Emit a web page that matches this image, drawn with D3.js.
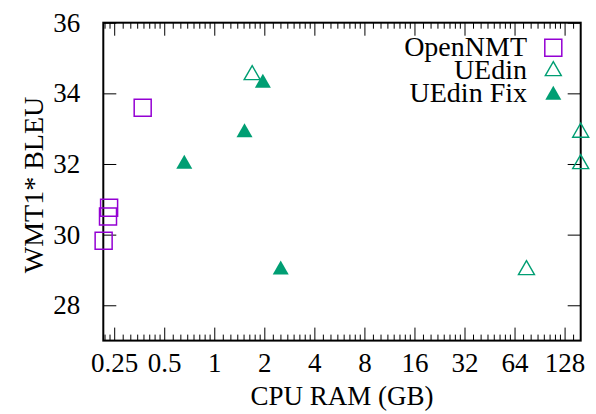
<!DOCTYPE html>
<html>
<head>
<meta charset="utf-8">
<script src="https://cdn.jsdelivr.net/npm/d3@7"></script>
<style>
  html, body { margin: 0; padding: 0; background: #fff; }
  svg { display: block; }
  text { font-family: "Liberation Serif", "Times New Roman", serif; fill: #000; }
</style>
</head>
<body>
<svg id="chart" width="596" height="414"></svg>
<script>
// Memory use (GB) vs. WMT1* BLEU for each system
const openNmtRam  = [0.216, 0.2295, 0.233, 0.371];
const openNmtBleu = [29.83, 30.51, 30.76, 33.59];

const uedinRam  = [1.69, 75.5, 160, 160];
const uedinBleu = [34.52, 29.0, 32.89, 32.0];

const uedinFixRam  = [0.66, 1.52, 1.96, 2.51];
const uedinFixBleu = [32.0, 32.89, 34.29, 29.0];

const seriesNames = ["OpenNMT", "UEdin", "UEdin Fix"];

const xTickValues = [0.25, 0.5, 1, 2, 4, 8, 16, 32, 64, 128];
const xTickLabels = ["0.25", "0.5", "1", "2", "4", "8", "16", "32", "64", "128"];
const yTickValues = [28, 30, 32, 34, 36];

const purple = "#9400D3";
const green = "#009E73";

const svg = d3.select("#chart");
const plotLeft = 103.3, plotRight = 580.7, plotTop = 22.7, plotBottom = 340.6;

const x = d3.scaleLog().base(2).domain([0.215, 160]).range([plotLeft, plotRight]);
const y = d3.scaleLinear().domain([27, 36]).range([plotBottom, plotTop]);

// minor ticks: 7 per octave, evenly spaced in value
const minorTicks = [];
for (let e = -3; e <= 7; e++) {
  const base = Math.pow(2, e);
  for (let k = 1; k <= 7; k++) {
    const v = base * (1 + k / 8);
    if (v > x.domain()[0] && v < x.domain()[1]) minorTicks.push(v);
  }
}

function styleAxis(g) {
  g.select(".domain").remove();
  g.selectAll(".tick line").attr("stroke", "#000").attr("stroke-width", 1);
  g.selectAll("text").style("font-family", "Liberation Serif, serif").style("font-size", "27px").attr("fill", "#000");
}

// bottom axis: major + minor ticks pointing inward
svg.append("g").attr("transform", `translate(0,${plotBottom})`)
  .call(d3.axisBottom(x).tickValues(xTickValues)
    .tickFormat((d, i) => xTickLabels[i]).tickSizeInner(-13).tickSizeOuter(0).tickPadding(12))
  .call(styleAxis);
svg.append("g").attr("transform", `translate(0,${plotBottom})`)
  .call(d3.axisBottom(x).tickValues(minorTicks).tickFormat("").tickSizeInner(-6).tickSizeOuter(0))
  .call(styleAxis);

// top mirror ticks
svg.append("g").attr("transform", `translate(0,${plotTop})`)
  .call(d3.axisTop(x).tickValues(xTickValues).tickFormat("").tickSizeInner(-13).tickSizeOuter(0))
  .call(styleAxis);
svg.append("g").attr("transform", `translate(0,${plotTop})`)
  .call(d3.axisTop(x).tickValues(minorTicks).tickFormat("").tickSizeInner(-6).tickSizeOuter(0))
  .call(styleAxis);

// left axis
svg.append("g").attr("transform", `translate(${plotLeft},0)`)
  .call(d3.axisLeft(y).tickValues(yTickValues).tickFormat(d3.format("d"))
    .tickSizeInner(-13).tickSizeOuter(0).tickPadding(23))
  .call(styleAxis);

// right mirror ticks
svg.append("g").attr("transform", `translate(${plotRight},0)`)
  .call(d3.axisRight(y).tickValues(yTickValues).tickFormat("").tickSizeInner(-13).tickSizeOuter(0))
  .call(styleAxis);

// frame
svg.append("rect")
  .attr("x", plotLeft).attr("y", plotTop)
  .attr("width", plotRight - plotLeft).attr("height", plotBottom - plotTop)
  .attr("fill", "none").attr("stroke", "#000").attr("stroke-width", 2);

// axis titles
svg.append("text")
  .attr("x", (plotLeft + plotRight) / 2).attr("y", 405)
  .attr("text-anchor", "middle").style("font-size", "27px")
  .text("CPU RAM (GB)");
svg.append("text")
  .attr("transform", "translate(43,185) rotate(-90)")
  .attr("text-anchor", "middle").style("font-size", "28px")
  .text("WMT1* BLEU");

// marker shapes
const sq = 17;
function squarePath(cx, cy) {
  const h = sq / 2;
  return `M${cx - h},${cy - h}h${sq}v${sq}h${-sq}Z`;
}
const triW = 16, triH = 14;
function trianglePath(cx, cy) {
  // centroid at (cx, cy)
  return `M${cx},${cy - triH * 2 / 3}L${cx + triW / 2},${cy + triH / 3}L${cx - triW / 2},${cy + triH / 3}Z`;
}

const plot = svg.append("g");

// OpenNMT: open squares
plot.selectAll("path.opennmt")
  .data(d3.zip(openNmtRam, openNmtBleu))
  .join("path").attr("class", "opennmt")
  .attr("d", d => squarePath(x(d[0]), y(d[1])))
  .attr("fill", "none").attr("stroke", purple).attr("stroke-width", 1.5);

// UEdin: open triangles
plot.selectAll("path.uedin")
  .data(d3.zip(uedinRam, uedinBleu))
  .join("path").attr("class", "uedin")
  .attr("d", d => trianglePath(x(d[0]), y(d[1])))
  .attr("fill", "none").attr("stroke", green).attr("stroke-width", 1.4);

// UEdin Fix: filled triangles
plot.selectAll("path.uedinfix")
  .data(d3.zip(uedinFixRam, uedinFixBleu))
  .join("path").attr("class", "uedinfix")
  .attr("d", d => trianglePath(x(d[0]), y(d[1])))
  .attr("fill", green).attr("stroke", "none");

// legend
const legendX = 527, symbolX = 553.3;
const legendRows = [
  { name: seriesNames[0], base: 56, cy: 47.7, draw: (g, cy) => g.append("path").attr("d", squarePath(symbolX, cy)).attr("fill", "none").attr("stroke", purple).attr("stroke-width", 1.5) },
  { name: seriesNames[1], base: 78.5, cy: 71, draw: (g, cy) => g.append("path").attr("d", trianglePath(symbolX, cy)).attr("fill", "none").attr("stroke", green).attr("stroke-width", 1.4) },
  { name: seriesNames[2], base: 101.5, cy: 95, draw: (g, cy) => g.append("path").attr("d", trianglePath(symbolX, cy)).attr("fill", green) }
];
const legend = svg.append("g");
legendRows.forEach(r => {
  legend.append("text").attr("x", legendX).attr("y", r.base)
    .attr("text-anchor", "end").style("font-size", "28px").text(r.name);
  r.draw(legend, r.cy);
});
</script>
</body>
</html>
